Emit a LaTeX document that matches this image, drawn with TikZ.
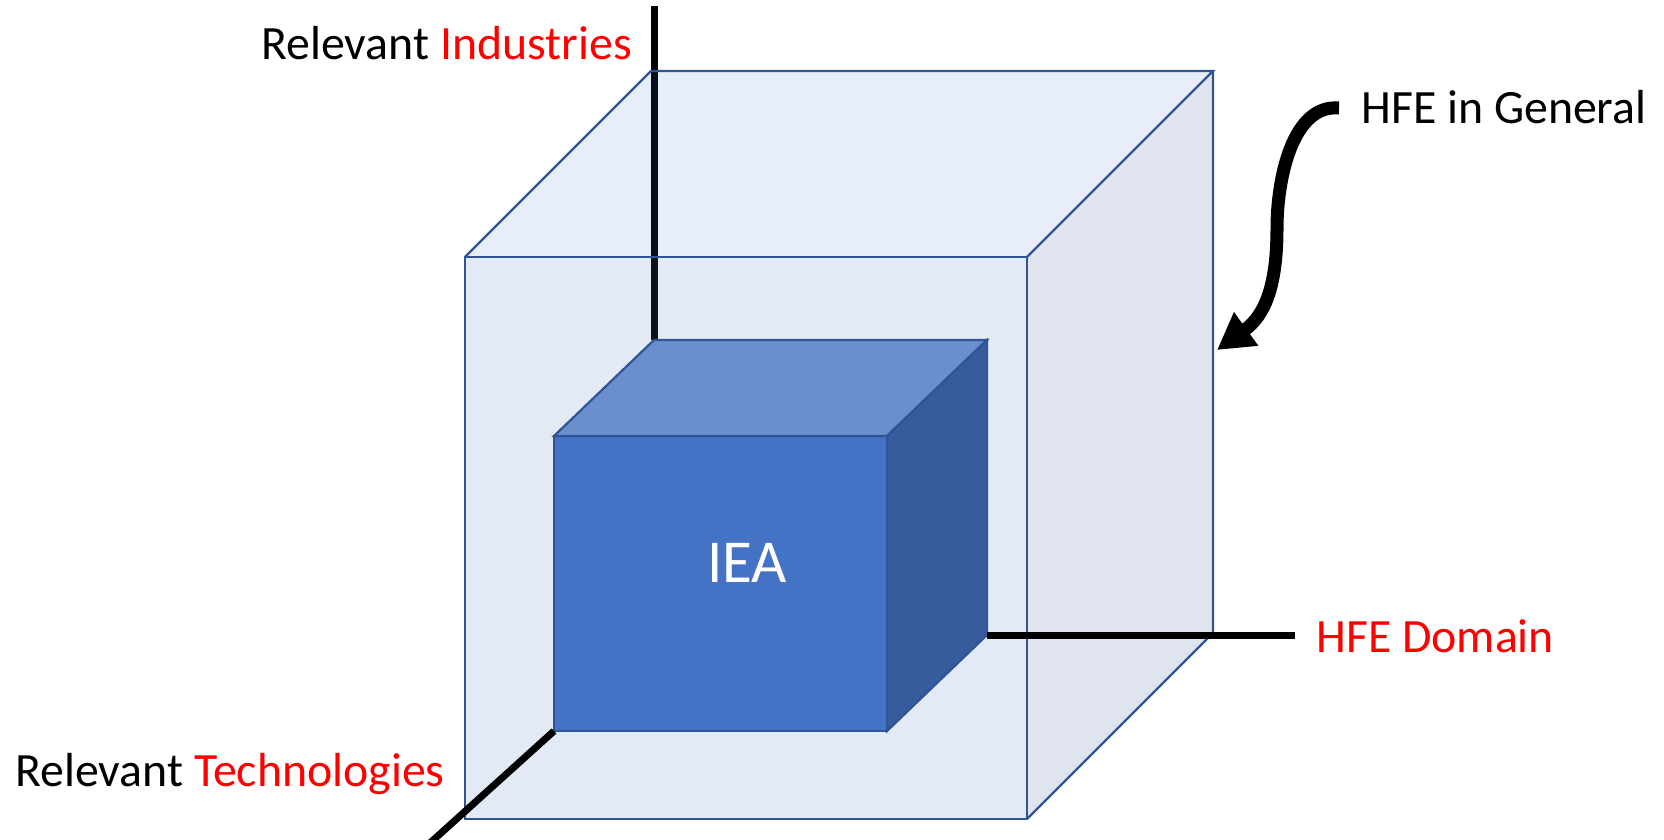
\documentclass[tikz,border=0pt]{standalone}
\usepackage{fontspec}
\setmainfont{Carlito}
\usetikzlibrary{arrows.meta}
\definecolor{edgeblue}{HTML}{2F5597}
\definecolor{iea}{HTML}{4472C4}
\definecolor{ieatop}{HTML}{6A8FCC}
\definecolor{ieaside}{HTML}{365C9E}
\definecolor{glass}{HTML}{4472C4}
\definecolor{glassside}{HTML}{3A5A96}
\definecolor{hred}{HTML}{FF0000}
\begin{document}
\begin{tikzpicture}[x=0.5pt,y=-0.5pt,
  cubeedge/.style={draw=edgeblue,line width=1.1pt,line join=miter},
  axisline/.style={draw=black,line width=3.5pt},
  lbl/.style={inner sep=0pt,anchor=base west,font=\fontsize{23.9}{28}\selectfont},
  hl/.style={text=hred}]
\useasboundingbox (0,0) rectangle (1664,840);
% outer cube corners
\coordinate (F1) at (465,257); \coordinate (F2) at (1027,257);
\coordinate (F3) at (1027,819); \coordinate (F4) at (465,819);
\coordinate (B1) at (651,71); \coordinate (B2) at (1213,71);
\coordinate (B3) at (1213,633);
% inner cube corners
\coordinate (f1) at (554,436); \coordinate (f2) at (887,436);
\coordinate (f3) at (887,731); \coordinate (f4) at (554,731);
\coordinate (b1) at (654,340); \coordinate (b2) at (987,340);
\coordinate (b3) at (987,635);
% axis ends
\coordinate (ytop) at (654,6);
\coordinate (xend) at (1295,635);
\coordinate (zend) at (430,843);
% vertical axis (behind the glass cube)
\draw[axisline] (ytop) -- (b1);
% outer glass cube
\fill[glass,fill opacity=0.15] (F1) -- (F2) -- (F3) -- (F4) -- cycle;
\fill[glass,fill opacity=0.12] (F1) -- (B1) -- (B2) -- (F2) -- cycle;
\fill[glassside,fill opacity=0.16] (F2) -- (B2) -- (B3) -- (F3) -- cycle;
\draw[cubeedge] (F1) -- (F2) -- (F3) -- (F4) -- cycle;
\draw[cubeedge] (F1) -- (B1) -- (B2) -- (F2);
\draw[cubeedge] (B2) -- (B3) -- (F3);
% inner IEA cube
\filldraw[cubeedge,fill=iea] (f1) -- (f2) -- (f3) -- (f4) -- cycle;
\filldraw[cubeedge,fill=ieatop] (f1) -- (b1) -- (b2) -- (f2) -- cycle;
\filldraw[cubeedge,fill=ieaside] (f2) -- (b2) -- (b3) -- (f3) -- cycle;
\node[inner sep=0pt,anchor=base,text=white,font=\fontsize{30.5}{36}\selectfont] (ieal) at (747,582) {IEA};
% front axes
\draw[axisline] (b3) -- (xend);
\draw[axisline] (f4) -- (zend);
% labels
\node[lbl] (lind) at (261,60) {Relevant \textcolor{hred}{Industries}};
\node[lbl] (lgen) at (1361,124) {HFE in General};
\node[lbl,hl] (ldom) at (1316,652) {HFE Domain};
\node[lbl] (ltec) at (15,786) {Relevant \textcolor{hred}{Technologies}};
% curved arrow
\coordinate (gstart) at (1339,108);
\coordinate (gtip) at (1217,350);
\draw[line width=6.5pt,-{Triangle[length=18pt,width=19.5pt]}]
  (gstart) .. controls (1292,104) and (1277,180) .. (1277,228)
  .. controls (1277,288) and (1264,316) .. (gtip);
\end{tikzpicture}
\end{document}
